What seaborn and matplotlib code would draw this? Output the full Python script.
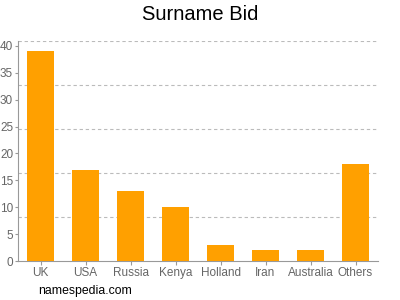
import matplotlib
matplotlib.use("Agg")
import matplotlib.pyplot as plt
import seaborn as sns
import pandas as pd

categories = ["UK", "USA", "Russia", "Kenya", "Holland", "Iran", "Australia", "Others"]
values = [39, 17, 13, 10, 3, 2, 2, 18]
y_ticks = [0, 5, 10, 15, 20, 25, 30, 35, 40]
grid_levels = [8.2, 16.4, 24.6, 32.8, 41]

sns.set_style("white")
plt.rcParams['font.family'] = ['Liberation Sans', 'DejaVu Sans']

df = pd.DataFrame({"country": categories, "count": values})
fig = plt.figure(figsize=(4, 3), dpi=100)
ax = fig.add_axes([0.045, 0.13, 0.9, 0.7347])
sns.barplot(data=df, x="country", y="count", color="#FFA000", saturation=1,
            width=0.62, ax=ax, zorder=3, linewidth=0)
for g in grid_levels:
    ax.axhline(g, color="#bbbbbb", linestyle=(0, (3, 2.5)), linewidth=0.8, zorder=1)
ax.set_xlim(-0.5, 7.5)
ax.set_ylim(0, 41)
ax.set_yticks(y_ticks)
ax.set_xlabel("")
ax.set_ylabel("")
for s in ["top", "right"]:
    ax.spines[s].set_visible(False)
for s in ["left", "bottom"]:
    ax.spines[s].set_color("#999999")
    ax.spines[s].set_linewidth(0.8)
ax.tick_params(axis="both", colors="#999999", labelcolor="#666666", labelsize=8.5,
               length=3, width=0.8, direction="out", pad=1.5)
ax.tick_params(axis="x", bottom=True, length=3)
ax.tick_params(axis="y", left=True, length=2)
fig.text(0.5, 0.953, "Surname Bid", ha="center", va="center", fontsize=14.5, color="#000000")
fig.text(0.095, 0.03, "namespedia.com", ha="left", va="center", fontsize=8.8, color="#000000")
fig.savefig("out.png", dpi=100)
